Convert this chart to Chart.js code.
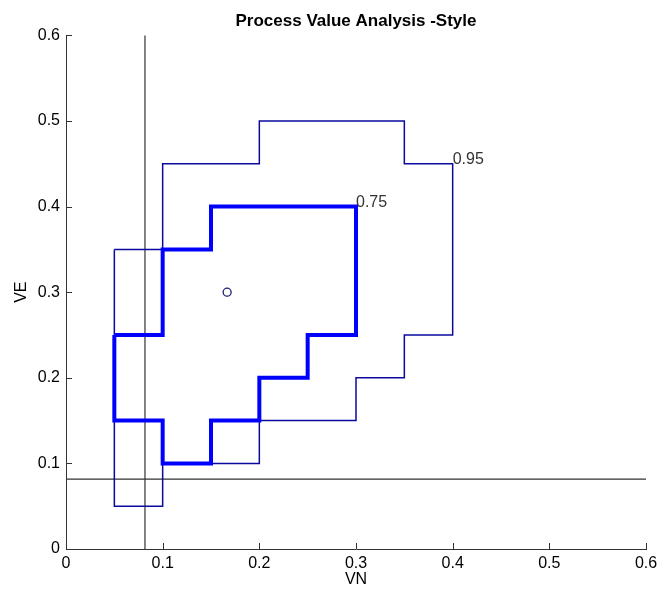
<!DOCTYPE html>
<html>
<head>
<meta charset="utf-8">
<script src="https://cdn.jsdelivr.net/npm/chart.js@4.4.1/dist/chart.umd.min.js"></script>
<style>
  html, body { margin: 0; padding: 0; background: #fff; }
  #wrap { width: 670px; height: 594px; }
</style>
</head>
<body>
<div id="wrap"><canvas id="canvas1" width="670" height="594"></canvas></div>
<script>
// outer contour (0.95 level)
let outerX = [0.05, 0.10, 0.10, 0.20, 0.20, 0.35, 0.35, 0.40, 0.40, 0.35, 0.35, 0.30, 0.30, 0.20, 0.20, 0.10, 0.10, 0.05, 0.05];
let outerY = [0.35, 0.35, 0.45, 0.45, 0.50, 0.50, 0.45, 0.45, 0.25, 0.25, 0.20, 0.20, 0.15, 0.15, 0.10, 0.10, 0.05, 0.05, 0.35];

// inner contour (0.75 level)
let innerX = [0.05, 0.10, 0.10, 0.15, 0.15, 0.30, 0.30, 0.25, 0.25, 0.20, 0.20, 0.15, 0.15, 0.10, 0.10, 0.05, 0.05];
let innerY = [0.25, 0.25, 0.35, 0.35, 0.40, 0.40, 0.25, 0.25, 0.20, 0.20, 0.15, 0.15, 0.10, 0.10, 0.15, 0.15, 0.25];

// contour labels and where they sit
let levelLabels = ['0.95', '0.75'];
let levelX = [0.40, 0.30];
let levelY = [0.45, 0.40];

// process value point and the reference limits
let pointX = [0.1667];
let pointY = [0.30];
let limitVN = 0.0817;
let limitVE = 0.0817;
let axisMin = 0, axisMax = 0.6;

function toXY(xs, ys) {
  let out = [];
  for (let i = 0; i < xs.length; i++) out.push({x: xs[i], y: ys[i]});
  return out;
}

let fontName = "'Liberation Sans', Arial, sans-serif";

// little inward tick marks like the original
let innerTicks = {
  id: 'innerTicks',
  afterDraw(chart) {
    let ctx = chart.ctx;
    let xs = chart.scales.x, ys = chart.scales.y;
    ctx.save();
    ctx.strokeStyle = '#333';
    ctx.lineWidth = 1;
    ctx.beginPath();
    xs.ticks.forEach(t => {
      let px = Math.round(xs.getPixelForValue(t.value)) + 0.5;
      ctx.moveTo(px, ys.bottom);
      ctx.lineTo(px, ys.bottom - 6);
    });
    ys.ticks.forEach(t => {
      let py = Math.round(ys.getPixelForValue(t.value)) + 0.5;
      ctx.moveTo(xs.left, py);
      ctx.lineTo(xs.left + 6, py);
    });
    ctx.stroke();

    // contour level labels
    ctx.fillStyle = '#333';
    ctx.font = '16px ' + fontName;
    ctx.textAlign = 'left';
    ctx.textBaseline = 'alphabetic';
    for (let i = 0; i < levelLabels.length; i++) {
      ctx.fillText(levelLabels[i], xs.getPixelForValue(levelX[i]), ys.getPixelForValue(levelY[i]));
    }
    ctx.restore();
  }
};

let options = {
  type: 'scatter',
  data: {
    datasets: [
      {
        data: toXY(innerX, innerY),
        showLine: true,
        borderColor: '#0000ff',
        borderWidth: 4,
        pointRadius: 0,
        borderJoinStyle: 'miter'
      },
      {
        data: toXY(outerX, outerY),
        showLine: true,
        borderColor: '#0a0aa0',
        borderWidth: 1.5,
        pointRadius: 0
      },
      {
        data: [{x: limitVN, y: axisMin}, {x: limitVN, y: axisMax}],
        showLine: true,
        borderColor: '#333',
        borderWidth: 1.2,
        pointRadius: 0
      },
      {
        data: [{x: axisMin, y: limitVE}, {x: axisMax, y: limitVE}],
        showLine: true,
        borderColor: '#333',
        borderWidth: 1.2,
        pointRadius: 0
      },
      {
        data: toXY(pointX, pointY),
        pointRadius: 4,
        pointBorderWidth: 1.3,
        pointBorderColor: '#1c1c70',
        pointBackgroundColor: '#fff'
      }
    ]
  },
  options: {
    responsive: false,
    animation: false,
    clip: false,
    layout: { padding: { left: 0, right: 24, top: 0, bottom: 0 } },
    plugins: {
      legend: { display: false },
      tooltip: { enabled: false },
      title: {
        display: true,
        fullSize: false,
        text: 'Process Value Analysis -Style',
        color: '#000',
        font: { family: fontName, size: 17, weight: 'bold' },
        padding: { top: 11, bottom: 4 }
      }
    },
    scales: {
      x: {
        type: 'linear',
        min: axisMin, max: axisMax,
        border: { display: true, color: '#333', width: 1 },
        grid: { display: false, drawTicks: false },
        ticks: {
          stepSize: 0.1,
          color: '#000',
          padding: 5,
          font: { family: fontName, size: 16 },
          callback: v => v === 0 ? '0' : v.toFixed(1)
        },
        title: {
          display: true, text: 'VN', color: '#000',
          font: { family: fontName, size: 16 },
          padding: { top: 0, bottom: 5 }
        },
        afterFit: s => { s.height = 45; }
      },
      y: {
        type: 'linear',
        min: axisMin, max: axisMax,
        border: { display: true, color: '#333', width: 1 },
        grid: { display: false, drawTicks: false },
        ticks: {
          stepSize: 0.1,
          color: '#000',
          padding: 6,
          font: { family: fontName, size: 16 },
          callback: v => v === 0 ? '0' : v.toFixed(1)
        },
        title: {
          display: true, text: 'VE', color: '#000',
          font: { family: fontName, size: 16 },
          padding: { top: 12, bottom: 12 }
        },
        afterFit: s => { s.width = 66; }
      }
    }
  },
  plugins: [innerTicks]
};

let chart = new Chart(document.getElementById('canvas1'), options);
</script>
</body>
</html>
